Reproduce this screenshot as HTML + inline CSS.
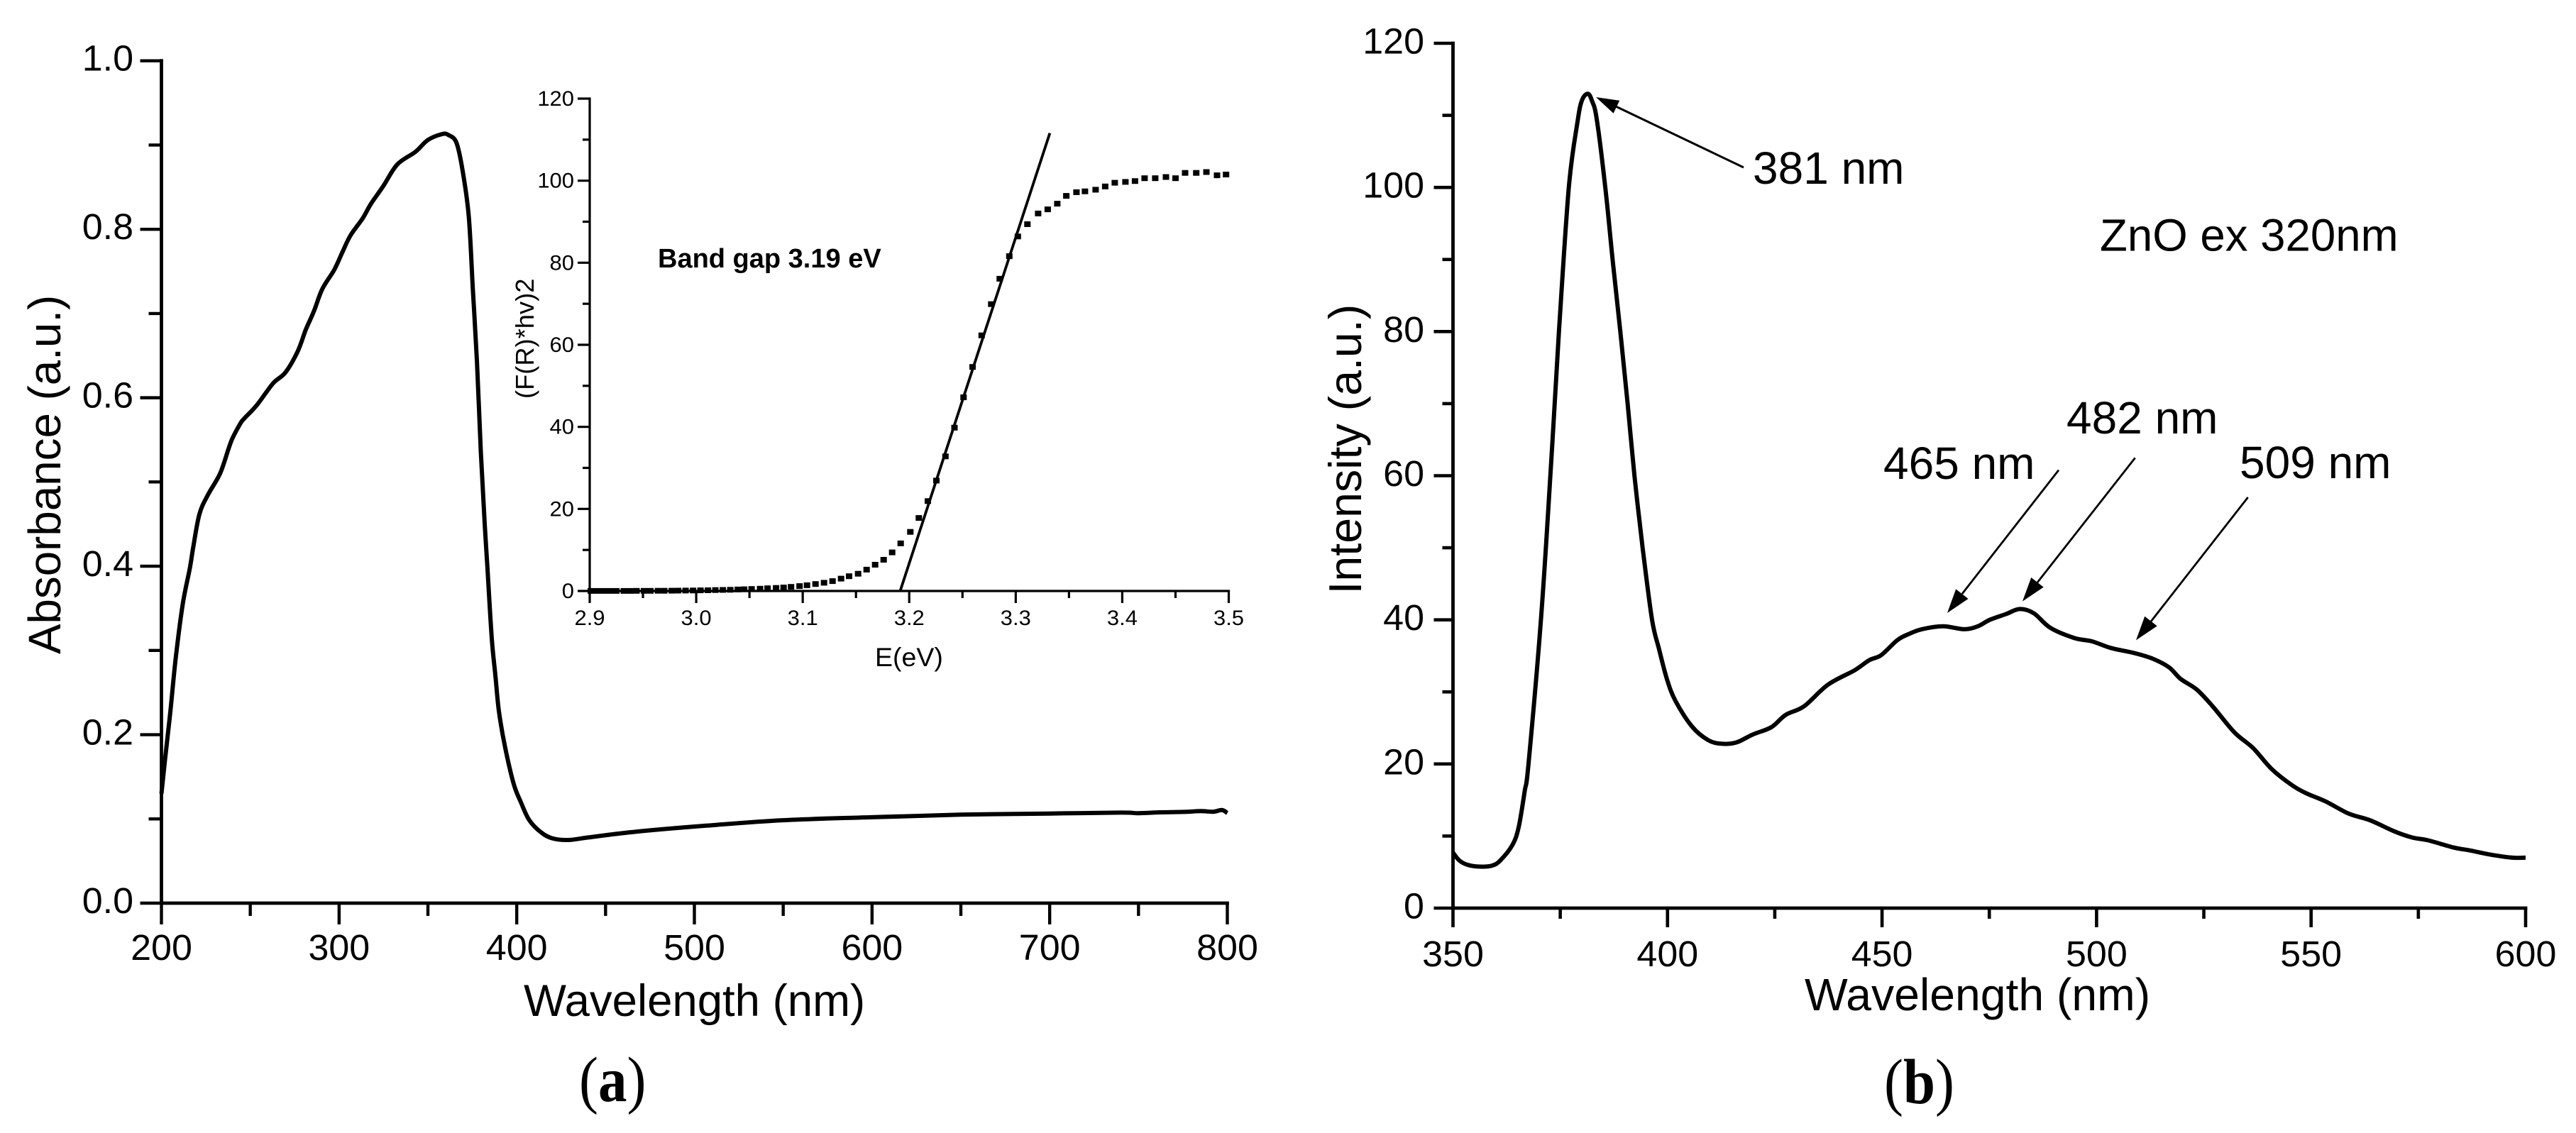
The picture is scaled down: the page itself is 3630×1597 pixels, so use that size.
<!DOCTYPE html>
<html lang="en">
<head>
<meta charset="utf-8">
<title>ZnO absorbance and photoluminescence spectra</title>
<style>
html,body{margin:0;padding:0;background:#fff;}
svg{display:block;}
text{font-family:"Liberation Sans",Arial,sans-serif;fill:#000;}
.cap{font-family:"Liberation Serif","Times New Roman",serif;}
</style>
</head>
<body>
<svg id="figure" xmlns="http://www.w3.org/2000/svg" width="3630" height="1597" viewBox="0 0 3630 1597">
  <rect x="0" y="0" width="3630" height="1597" fill="#fff"/>
  <g id="panel-a"></g>
  <g id="panel-inset"></g>
  <g id="panel-b"></g>

  <text transform="translate(85,922) rotate(-90)" font-size="63.7">Absorbance (a.u.)</text>
  <text x="738" y="1432" font-size="63.5">Wavelength (nm)</text>
  <text transform="translate(752,562) rotate(-90)" font-size="36.3">(F(R)*hv)2</text>
  <text x="1233" y="939" font-size="37.5">E(eV)</text>
  <text x="927" y="377" font-size="38" font-weight="bold">Band gap 3.19 eV</text>
  <text class="cap" transform="translate(816,1552) scale(0.9,1)" font-size="90">(<tspan font-weight="bold">a</tspan>)</text>

  <text transform="translate(1918,837.5) rotate(-90)" font-size="64.5">Intensity (a.u.)</text>
  <text x="2543" y="1424" font-size="64.3">Wavelength (nm)</text>
  <text class="cap" transform="translate(2655,1555) scale(0.9,1)" font-size="90">(<tspan font-weight="bold">b</tspan>)</text>
  <text x="2959" y="353.5" font-size="63.6">ZnO ex 320nm</text>

  <text x="2470" y="259" font-size="64">381 nm</text>
  <line x1="2457" y1="236" x2="2277" y2="150" stroke="#000" stroke-width="3"/>
  <polygon points="2249,137 2282.2,141.8 2273.6,159.8" fill="#000"/>

  <text x="2654" y="675" font-size="64">465 nm</text>
  <line x1="2901" y1="662.6" x2="2765" y2="837" stroke="#000" stroke-width="2.8"/>
  <polygon points="2744,864 2773.6,844 2756.2,830.4" fill="#000"/>

  <text x="2912" y="611" font-size="64">482 nm</text>
  <line x1="3008.7" y1="645.4" x2="2871" y2="821" stroke="#000" stroke-width="2.8"/>
  <polygon points="2850,847.6 2879.7,827.6 2862.3,814" fill="#000"/>

  <text x="3156" y="674" font-size="64">509 nm</text>
  <line x1="3167.7" y1="701" x2="3031" y2="876" stroke="#000" stroke-width="2.8"/>
  <polygon points="3010,902.4 3039.7,882.4 3022.3,868.8" fill="#000"/>
</svg>
<script>
// ---- Panel (a): absorbance spectrum ----
const absWavelength = [200,202,205,208,212,216,218,221.4,226,233,237.7,240,244.6,246.9,253.6,262.8,269.8,276.7,281.3,285.9,290.5,297.3,301.9,306.5,313.3,317.9,324.8,332.8,343,350,358,361.5,366,369.5,373,375.3,377.6,379.8,382,383.5,386,388,390,393.5,398.3,402.3,407,413.7,420,429,440.4,466,506.7,550,600,650,700,740,750,762,775,785,792,797,800];
const absValues = [0.13,0.17,0.227,0.29,0.355,0.398,0.424,0.462,0.484,0.51,0.539,0.552,0.57,0.576,0.591,0.617,0.63,0.655,0.681,0.703,0.729,0.752,0.773,0.793,0.813,0.83,0.851,0.877,0.892,0.906,0.913,0.912,0.903,0.87,0.815,0.729,0.643,0.535,0.449,0.398,0.313,0.27,0.2275,0.1845,0.1415,0.12,0.0987,0.084,0.077,0.075,0.078,0.0846,0.092,0.0985,0.102,0.105,0.1064,0.1075,0.1068,0.1078,0.1083,0.1092,0.1085,0.1105,0.107];
const absXTicks = [200,300,400,500,600,700,800];
const absXMinor = [250,350,450,550,650,750];
const absYTicks = ["0.0","0.2","0.4","0.6","0.8","1.0"];
const absYMinor = [0.1,0.3,0.5,0.7,0.9];

// ---- Inset: Tauc plot ----
const taucEnergy = [2.901,2.907,2.913,2.919,2.925,2.932,2.938,2.944,2.951,2.957,2.964,2.970,2.977,2.983,2.990,2.997,3.004,3.011,3.018,3.025,3.032,3.039,3.045,3.052,3.060,3.067,3.075,3.082,3.089,3.097,3.104,3.112,3.120,3.128,3.136,3.1435,3.152,3.160,3.168,3.176,3.184,3.192,3.201,3.209,3.2175,3.2255,3.234,3.2425,3.251,3.2595,3.268,3.277,3.285,3.294,3.302,3.311,3.321,3.330,3.339,3.3475,3.357,3.365,3.375,3.384,3.393,3.403,3.412,3.421,3.431,3.441,3.450,3.459,3.4695,3.479,3.489,3.4975];
const taucValues = [0.01,0.01,0.01,0.01,0.02,0.02,0.02,0.03,0.03,0.04,0.05,0.06,0.07,0.08,0.1,0.12,0.15,0.18,0.22,0.26,0.3,0.36,0.42,0.48,0.55,0.65,0.75,0.85,1.0,1.2,1.4,1.7,2.0,2.4,3.0,3.6,4.2,5.2,6.4,7.6,9.4,11.6,14.4,17.8,21.9,26.9,32.8,39.8,47.2,54.6,62.3,69.9,76.1,81.6,86.4,89.4,92,93,94.4,96.3,97.2,97.4,97.8,98.6,99.5,99.7,99.9,100.6,100.6,100.9,100.6,101.9,101.9,102.1,101.3,101.5];
const fitEnergy = [3.1915,3.332];
const fitValues = [0,111.6];
const taucXTicks = ["2.9","3.0","3.1","3.2","3.3","3.4","3.5"];
const taucXMinor = [2.95,3.05,3.15,3.25,3.35,3.45];
const taucYTicks = [0,20,40,60,80,100,120];
const taucYMinor = [10,30,50,70,90,110];

// ---- Panel (b): photoluminescence spectrum ----
const plWavelength = [350,351.5,353.4,356.2,359.1,361,363.8,365.3,366.7,367.6,370.5,372.7,374.7,377,379,380,381.4,382.4,383.5,385.5,387.2,389,390.7,392.3,394.2,396.4,398,399.9,401.9,405.7,409.5,412.8,416.1,419.9,424.2,427.5,431.8,437.4,443.6,447,449.8,453.6,456.5,459.3,464.2,469.1,472.3,475.1,478.9,482.1,485.4,489.2,494.7,499,503.3,508.7,513.1,516.9,519.6,523.4,527.2,532.1,536.5,540.8,545.7,549,553.4,558.8,563.7,569.2,573.5,577.3,583.3,587,592,596.9,600];
const plValues = [7.7,6.6,6,5.76,5.9,6.6,8.7,11.2,16.2,20,40,60,80,100,109,112,113,112,109.5,100,90,80,70,60,50,40,36,31.7,28.7,25.2,23.3,22.8,23,24.1,25.1,26.8,28,31,33,34.4,35.1,37.2,38.1,38.7,39.1,38.7,39.1,40,40.8,41.5,40.9,38.9,37.5,37,36.1,35.4,34.6,33.4,31.8,30.3,27.9,24.4,22.2,19.3,17,15.9,14.8,13.1,12.2,10.7,9.8,9.4,8.4,8,7.4,7,7];
const plXTicks = [350,400,450,500,550,600];
const plXMinor = [375,425,475,525,575];
const plYTicks = [0,20,40,60,80,100,120];
const plYMinor = [10,30,50,70,90,110];

const NS = 'http://www.w3.org/2000/svg';

function scale(d0, d1, r0, r1) {
  return function (v) { return r0 + (Number(v) - d0) * (r1 - r0) / (d1 - d0); };
}
function addLine(parent, x1, y1, x2, y2, width, name) {
  const el = document.createElementNS(NS, 'line');
  el.setAttribute('x1', x1);
  el.setAttribute('y1', y1);
  el.setAttribute('x2', x2);
  el.setAttribute('y2', y2);
  el.setAttribute('stroke', '#000');
  el.setAttribute('stroke-width', width);
  
  
  parent.appendChild(el);
}
function addLabel(parent, x, y, str, size, sx, anchor, name) {
  const el = document.createElementNS(NS, 'text');
  el.setAttribute('transform', 'translate(' + x + ',' + y + ') scale(' + sx + ',1)');
  el.setAttribute('font-size', size);
  el.setAttribute('text-anchor', anchor);
  el.textContent = str;
  
  
  parent.appendChild(el);
}
// Smooth (Catmull-Rom) path through the data points, drawn via the axis functions.
function addCurve(parent, xs, ys, fx, fy, width, name) {
  const pts = xs.map(function (v, i) { return [fx(v), fy(ys[i])]; });
  let d = 'M' + pts[0][0].toFixed(1) + ' ' + pts[0][1].toFixed(1);
  for (let i = 0; i < pts.length - 1; i++) {
    const p0 = pts[Math.max(i - 1, 0)], p1 = pts[i], p2 = pts[i + 1], p3 = pts[Math.min(i + 2, pts.length - 1)];
    const c1x = p1[0] + (p2[0] - p0[0]) / 6, c1y = p1[1] + (p2[1] - p0[1]) / 6;
    const c2x = p2[0] - (p3[0] - p1[0]) / 6, c2y = p2[1] - (p3[1] - p1[1]) / 6;
    d += 'C' + c1x.toFixed(1) + ' ' + c1y.toFixed(1) + ' ' + c2x.toFixed(1) + ' ' + c2y.toFixed(1) + ' ' + p2[0].toFixed(1) + ' ' + p2[1].toFixed(1);
  }
  const el = document.createElementNS(NS, 'path');
  el.setAttribute('d', d);
  el.setAttribute('fill', 'none');
  el.setAttribute('stroke', '#000');
  el.setAttribute('stroke-width', width);
  el.setAttribute('stroke-linejoin', 'round');
  
  
  parent.appendChild(el);
}
function drawAxes(g, fx, fy, o) {
  const x0 = fx(o.xDomain[0]), x1 = fx(o.xDomain[1]);
  const y0 = fy(o.yDomain[0]), y1 = fy(o.yDomain[1]);
  addLine(g, x0, y0, x1 + o.w / 2, y0, o.w, o.prefix + '-x-axis');
  addLine(g, x0, y0, x0, y1 - o.w / 2, o.w, o.prefix + '-y-axis');
  o.xTicks.forEach(function (t) {
    addLine(g, fx(t), y0, fx(t), y0 + o.major, o.tw, o.prefix + '-x-tick');
    addLabel(g, fx(t), y0 + o.xLabelDy, t, o.font, o.sx, 'middle', o.prefix + '-x-tick-label');
  });
  o.xMinor.forEach(function (t) {
    addLine(g, fx(t), y0, fx(t), y0 + o.minor, o.tw, o.prefix + '-x-minor-tick');
  });
  o.yTicks.forEach(function (t) {
    addLine(g, x0, fy(t), x0 - o.major, fy(t), o.tw, o.prefix + '-y-tick');
    addLabel(g, o.yLabelX, fy(t) + o.yLabelDy, t, o.font, o.sx, 'end', o.prefix + '-y-tick-label');
  });
  o.yMinor.forEach(function (t) {
    addLine(g, x0, fy(t), x0 - o.minor, fy(t), o.tw, o.prefix + '-y-minor-tick');
  });
}

// Panel (a)
const gA = document.getElementById('panel-a');
const fxA = scale(200, 800, 227.5, 1729.5);
const fyA = scale(0, 1, 1273, 85.7);
drawAxes(gA, fxA, fyA, {
  prefix: 'absorbance', xDomain: [200, 800], yDomain: [0, 1],
  xTicks: absXTicks, xMinor: absXMinor, yTicks: absYTicks, yMinor: absYMinor,
  w: 4.8, tw: 4.4, major: 30, minor: 18, font: 51, sx: 1.02,
  xLabelDy: 80, yLabelX: 188, yLabelDy: 14
});
addCurve(gA, absWavelength, absValues, fxA, fyA, 6, 'absorbance-curve');

// Inset
const gI = document.getElementById('panel-inset');
const fxI = scale(2.9, 3.5, 831, 1731.5);
const fyI = scale(0, 120, 833, 139);
drawAxes(gI, fxI, fyI, {
  prefix: 'inset', xDomain: [2.9, 3.5], yDomain: [0, 120],
  xTicks: taucXTicks, xMinor: taucXMinor, yTicks: taucYTicks, yMinor: taucYMinor,
  w: 3.2, tw: 3.2, major: 17, minor: 10, font: 29.5, sx: 1.05,
  xLabelDy: 48, yLabelX: 809, yLabelDy: 10
});
taucEnergy.forEach(function (e, i) {
  const m = document.createElementNS(NS, 'rect');
  m.setAttribute('x', (fxI(e) - 4.5).toFixed(1));
  m.setAttribute('y', (fyI(taucValues[i]) - 4).toFixed(1));
  m.setAttribute('width', 9);
  m.setAttribute('height', 8);
  m.setAttribute('fill', '#000');
  
  
  gI.appendChild(m);
});
addCurve(gI, fitEnergy, fitValues, fxI, fyI, 3.8, 'band-gap-fit-line');

// Panel (b)
const gB = document.getElementById('panel-b');
const fxB = scale(350, 600, 2047.5, 3559);
const fyB = scale(0, 120, 1280, 61);
drawAxes(gB, fxB, fyB, {
  prefix: 'emission', xDomain: [350, 600], yDomain: [0, 120],
  xTicks: plXTicks, xMinor: plXMinor, yTicks: plYTicks, yMinor: plYMinor,
  w: 4.8, tw: 4.6, major: 27, minor: 15, font: 51, sx: 1.02,
  xLabelDy: 82, yLabelX: 2007, yLabelDy: 14.5
});
addCurve(gB, plWavelength, plValues, fxB, fyB, 6, 'emission-curve');
</script>
</body>
</html>
